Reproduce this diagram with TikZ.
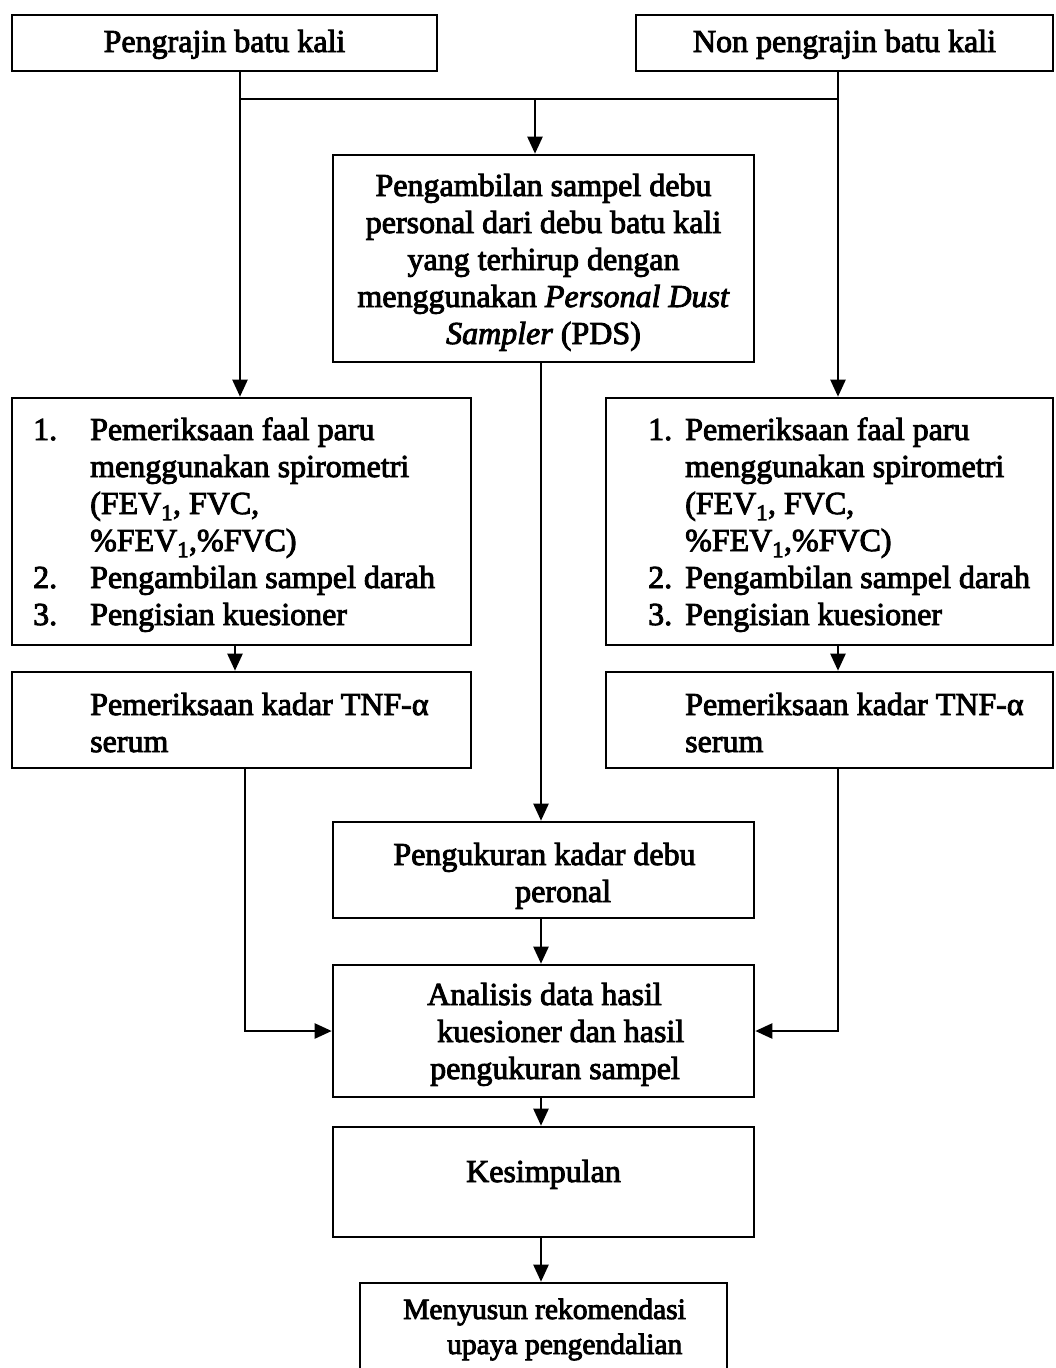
\documentclass[tikz,border=0pt]{standalone}
\usepackage{fontspec}
\setmainfont{Liberation Serif}
\usetikzlibrary{arrows.meta}
\newcommand\heavyink{\special{pdf:literal direct 2 Tr 0.9 w}}
\begin{document}
\begin{tikzpicture}[x=1pt,y=-1pt,
  box/.style={draw, line width=2.6pt, inner sep=0pt},
  txt/.style={inner sep=0pt, font=\fontsize{32}{37}\selectfont\heavyink},
  stxt/.style={inner sep=0pt, font=\fontsize{29.5}{35}\selectfont\heavyink},
  ln/.style={line width=2.3pt},
  arr/.style={line width=2.3pt, -{Triangle[width=15pt,length=17pt]}}]
\useasboundingbox (0,0) rectangle (1056,1368);
\clip (0,0) rectangle (1056,1368);
% boxes
\node[box, minimum width=425pt, minimum height=56pt] (b1) at (224.5,43) {};
\node[box, minimum width=417pt, minimum height=56pt] (b2) at (844.5,43) {};
\node[box, minimum width=421pt, minimum height=207pt] (c1) at (543.5,258.5) {};
\node[box, minimum width=459pt, minimum height=247pt] (L1) at (241.5,521.5) {};
\node[box, minimum width=447pt, minimum height=247pt] (R1) at (829.5,521.5) {};
\node[box, minimum width=459pt, minimum height=96pt] (L2) at (241.5,720) {};
\node[box, minimum width=447pt, minimum height=96pt] (R2) at (829.5,720) {};
\node[box, minimum width=421pt, minimum height=96pt] (P) at (543.5,870) {};
\node[box, minimum width=421pt, minimum height=132pt] (A) at (543.5,1031) {};
\node[box, minimum width=421pt, minimum height=110pt] (K) at (543.5,1182) {};
\node[box, minimum width=367pt, minimum height=117pt] (M) at (543.5,1341.5) {};
% texts
\node[txt, anchor=base] (t1) at (224.5,52) {Pengrajin batu kali};
\node[txt, anchor=base] (t2) at (844.5,52) {Non pengrajin batu kali};
\node[txt, anchor=base] (c1a) at (543.5,196) {Pengambilan sampel debu};
\node[txt, anchor=base] (c1b) at (543.5,233) {personal dari debu batu kali};
\node[txt, anchor=base] (c1c) at (543.5,270) {yang terhirup dengan};
\node[txt, anchor=base] (c1d) at (543.5,307) {menggunakan \textit{Personal Dust}};
\node[txt, anchor=base] (c1e) at (543.5,344) {\textit{Sampler} (PDS)};
% left list
\node[txt, anchor=base west] (ln1) at (33,440) {1.};
\node[txt, anchor=base west] (lt1) at (90,440) {Pemeriksaan faal paru};
\node[txt, anchor=base west] (lt2) at (90,477) {menggunakan spirometri};
\node[txt, anchor=base west] (lt3) at (90,514) {(FEV\textsubscript{1}, FVC,};
\node[txt, anchor=base west] (lt4) at (90,551) {\%FEV\textsubscript{1},\%FVC)};
\node[txt, anchor=base west] (ln2) at (33,588) {2.};
\node[txt, anchor=base west] (lt5) at (90,588) {Pengambilan sampel darah};
\node[txt, anchor=base west] (ln3) at (33,625) {3.};
\node[txt, anchor=base west] (lt6) at (90,625) {Pengisian kuesioner};
% right list
\node[txt, anchor=base west] (rn1) at (648,440) {1.};
\node[txt, anchor=base west] (rt1) at (685,440) {Pemeriksaan faal paru};
\node[txt, anchor=base west] (rt2) at (685,477) {menggunakan spirometri};
\node[txt, anchor=base west] (rt3) at (685,514) {(FEV\textsubscript{1}, FVC,};
\node[txt, anchor=base west] (rt4) at (685,551) {\%FEV\textsubscript{1},\%FVC)};
\node[txt, anchor=base west] (rn2) at (648,588) {2.};
\node[txt, anchor=base west] (rt5) at (685,588) {Pengambilan sampel darah};
\node[txt, anchor=base west] (rn3) at (648,625) {3.};
\node[txt, anchor=base west] (rt6) at (685,625) {Pengisian kuesioner};
% TNF
\node[txt, anchor=base west] (l2a) at (90,715) {Pemeriksaan kadar TNF-α};
\node[txt, anchor=base west] (l2b) at (90,752) {serum};
\node[txt, anchor=base west] (r2a) at (685,715) {Pemeriksaan kadar TNF-α};
\node[txt, anchor=base west] (r2b) at (685,752) {serum};
% Pengukuran
\node[txt, anchor=base] (pa) at (544.5,865) {Pengukuran kadar debu};
\node[txt, anchor=base west] (pb) at (515,902) {peronal};
% Analisis
\node[txt, anchor=base west] (aa) at (427,1005) {Analisis data hasil};
\node[txt, anchor=base west] (ab) at (437,1042) {kuesioner dan hasil};
\node[txt, anchor=base west] (ac) at (430,1079) {pengukuran sampel};
% Kesimpulan
\node[txt, anchor=base] (ka) at (543.5,1182) {Kesimpulan};
% Menyusun
\node[stxt, anchor=base west] (ma) at (403,1319) {Menyusun rekomendasi};
\node[stxt, anchor=base west] (mb) at (447,1354) {upaya pengendalian};
% connectors
\coordinate (jl) at (240,99);
\coordinate (jr) at (838,99);
\coordinate (jc) at (535,99);
\coordinate (xc) at (541,0);
\coordinate (xl2) at (235,0);
\coordinate (xl3) at (245,0);
\draw[arr] (b1.south -| jl) -- (L1.north -| jl);
\draw[arr] (b2.south -| jr) -- (R1.north -| jr);
\draw[ln] (jl) -- (jr);
\draw[arr] (jc) -- (c1.north -| jc);
\draw[arr] (c1.south -| xc) -- (P.north -| xc);
\draw[arr] (L1.south -| xl2) -- (L2.north -| xl2);
\draw[arr] (R1.south -| jr) -- (R2.north -| jr);
\draw[arr] (L2.south -| xl3) |- (A.west);
\draw[arr] (R2.south -| jr) |- (A.east);
\draw[arr] (P.south -| xc) -- (A.north -| xc);
\draw[arr] (A.south -| xc) -- (K.north -| xc);
\draw[arr] (K.south -| xc) -- (M.north -| xc);
\end{tikzpicture}
\end{document}
